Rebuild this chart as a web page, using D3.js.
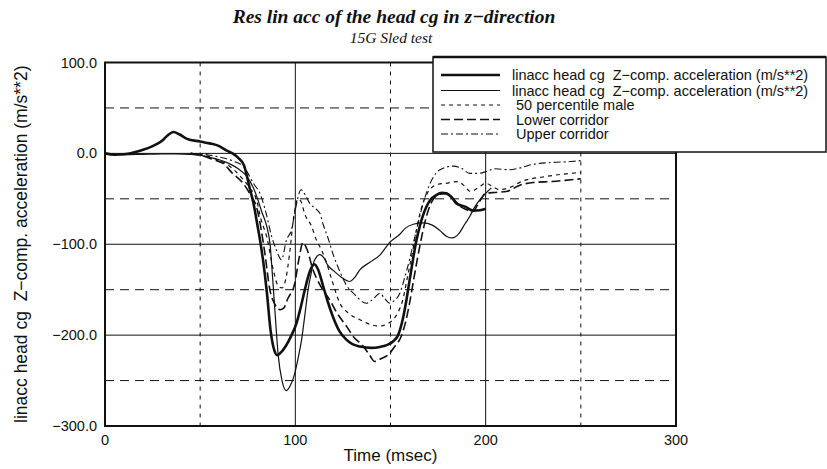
<!DOCTYPE html>
<html>
<head>
<meta charset="utf-8">
<script src="https://cdn.jsdelivr.net/npm/d3@7/dist/d3.min.js"></script>
<style>
  html, body { margin: 0; padding: 0; background: #fff; }
  svg { display: block; }
  text { white-space: pre; }
</style>
</head>
<body>
<svg id="chart" width="827" height="469"></svg>
<script>
// ---------------- DATA ----------------
const titleText = "Res lin acc of the head cg in z\u2212direction";
const subtitleText = "15G Sled test";
const xLabelText = "Time (msec)";
const yLabelText = "linacc head cg  Z\u2212comp. acceleration (m/s**2)";

const xTicks = [0, 100, 200, 300];
const xTickLabels = ["0", "100", "200", "300"];
const yTicks = [100, 0, -100, -200, -300];
const yTickLabels = ["100.0", "0.0", "\u2212100.0", "\u2212200.0", "\u2212300.0"];
const xGridSolid = [100, 200];
const xGridDashed = [50, 150, 250];
const yGridSolid = [0, -100, -200];
const yGridDashed = [50, -50, -150, -250];

const legendLabels = [
  "linacc head cg  Z\u2212comp. acceleration (m/s**2)",
  "linacc head cg  Z\u2212comp. acceleration (m/s**2)",
  " 50 percentile male",
  " Lower corridor",
  " Upper corridor"
];

// test 1 (thick solid)  [time ms, acceleration]
const test1 = [[0,0],[5,-1.5],[10,-1],[15,1],[20,4],[25,8],[30,14],[33,20],[36,23.5],[39,21],[43,16],[50,13],[55,11],[60,8],[64,3],[67,0],[70,-5],[73,-13],[76,-38],[78,-55],[80,-78],[81.5,-96],[83,-117],[85,-152],[87,-195],[89,-217],[90.5,-222],[92,-220],[95,-212],[98,-200],[100.6,-187],[103,-168],[105,-150],[107.6,-130],[110,-122],[112,-128],[114.6,-146],[117,-163],[119.8,-180],[123,-195],[126.8,-205],[130,-210],[134,-212.5],[140,-214],[144.4,-213],[148,-211],[151.3,-207],[154,-200],[156.5,-182],[158.4,-161],[160,-140],[161.8,-117],[163.5,-97],[165.4,-80],[168.8,-59],[171,-51],[174,-46],[177,-43.5],[179.3,-44],[182,-48],[184.6,-55],[189.6,-59],[193.3,-63],[197,-62.5],[200,-61]];

// test 2 (thin solid)
const test2 = [[0,0],[5,-1],[10,-1.5],[20,-1],[30,-0.5],[37,-0.5],[45,-1],[50,-2],[54,-4],[60,-7],[65,-11],[70,-17],[74,-24],[78,-38],[82,-62],[86.6,-98],[88,-135],[89.5,-180],[91,-222],[93,-250],[95.3,-261],[97.5,-255],[99.7,-242],[101.5,-225],[103.3,-205],[105,-178],[106.7,-150],[108.5,-130],[110,-118],[112.9,-111.5],[115,-115],[117,-123],[120,-129],[124,-136],[128.6,-141],[131,-137],[134,-128],[139,-120],[144.4,-112],[149.6,-98],[154.9,-89],[158,-82],[162,-78],[167,-76.5],[172,-79],[176,-85],[180,-92],[182.5,-93],[186,-88],[189,-78],[191.6,-69.5],[194,-60],[197,-51],[200,-44],[203,-38]];

// 50 percentile male (short dash)
const male50 = [[45,0],[52,-2],[58,-6],[64,-12],[71,-25],[76,-38],[79.6,-51],[82,-73],[85,-92],[88.4,-128],[91,-146],[93,-148],[95,-138],[97,-110],[99,-72],[101.5,-50],[103,-53],[105,-67],[108.5,-80],[111,-95],[113.7,-106],[116,-118],[119,-138],[123.4,-165],[128,-176],[133.9,-183],[139,-188],[144.4,-190],[148,-188],[151.3,-183],[154,-175],[156.6,-160],[159,-135],[161.8,-106],[164,-80],[166,-62],[170.6,-40],[175,-34],[179,-33],[185,-31],[189,-36],[192,-42],[196,-38],[200,-33],[204,-37],[207,-40],[212,-38],[220,-30],[230,-26],[240,-23],[250,-21]];

// Lower corridor (long dash)
const lowerCorr = [[45,0],[50,-2],[57,-7],[62,-11],[67,-22],[72.6,-33],[76,-44],[80,-62],[84,-110],[86.6,-150],[89,-165],[92,-172],[94,-170],[96,-160],[99.7,-143],[102,-115],[104,-98],[106,-105],[109.3,-128],[113,-145],[118,-161],[122,-176],[126.8,-190],[131,-203],[135.6,-212],[139,-222],[141.7,-229],[145,-226],[149.6,-220],[152,-213],[155.7,-201],[158,-185],[160,-165],[162.5,-135],[165.4,-102],[168.8,-70],[172.3,-51],[176,-45],[179.3,-44],[183,-50],[186.4,-58],[190,-62],[193.3,-64],[196,-56],[200,-44],[205,-43],[210.8,-42],[218,-35],[225,-32],[235,-31],[245,-29],[250,-28]];

// Upper corridor (dash-dot)
const upperCorr = [[45,0],[55,-2],[62,-5],[68,-9],[72.6,-14],[78,-33],[82,-47],[85,-69],[87.5,-91],[90,-106],[92.7,-117],[95.4,-95],[98,-84],[100,-62],[103,-40],[105,-45],[107.6,-55],[110,-60],[112.9,-66],[114.6,-78],[117,-92],[120,-112],[123,-128],[126.8,-145],[131,-155],[137.3,-165],[141,-160],[144.4,-154],[147,-160],[149.6,-165],[152,-162],[154.9,-154],[157,-140],[160,-117],[163,-90],[165.4,-69],[168.8,-44],[172,-28],[176,-18],[182.8,-14],[187,-16],[191.6,-22],[196,-22],[200.4,-20],[205,-17],[212.6,-18],[218,-16],[225,-12],[235,-10],[245,-9],[250,-8]];

// ---------------- CHART ----------------
const svg = d3.select("#chart");
const plot = { left: 105, right: 676, top: 62.5, bottom: 426 };
const ink = "#111";

const x = d3.scaleLinear().domain([0, 300]).range([plot.left, plot.right]);
const y = d3.scaleLinear().domain([-300, 100]).range([plot.bottom, plot.top]);

svg.append("defs").append("clipPath").attr("id", "clip")
  .append("rect").attr("x", plot.left).attr("y", plot.top)
  .attr("width", plot.right - plot.left).attr("height", plot.bottom - plot.top);

const grid = svg.append("g");
grid.selectAll(".vs").data(xGridSolid).join("line")
  .attr("x1", d => x(d)).attr("x2", d => x(d))
  .attr("y1", plot.top).attr("y2", plot.bottom)
  .attr("stroke", ink).attr("stroke-width", 1);
grid.selectAll(".vd").data(xGridDashed).join("line")
  .attr("x1", d => x(d)).attr("x2", d => x(d))
  .attr("y1", plot.top).attr("y2", plot.bottom)
  .attr("stroke", ink).attr("stroke-width", 1).attr("stroke-dasharray", "4,5");
grid.selectAll(".hs").data(yGridSolid).join("line")
  .attr("x1", plot.left).attr("x2", plot.right)
  .attr("y1", d => y(d)).attr("y2", d => y(d))
  .attr("stroke", ink).attr("stroke-width", 1);
grid.selectAll(".hd").data(yGridDashed).join("line")
  .attr("x1", plot.left).attr("x2", plot.right)
  .attr("y1", d => y(d)).attr("y2", d => y(d))
  .attr("stroke", ink).attr("stroke-width", 1).attr("stroke-dasharray", "9,6");

const styles = [
  { data: test1, width: 2.6, dash: null },
  { data: test2, width: 1.2, dash: null },
  { data: male50, width: 1.2, dash: "4,4" },
  { data: lowerCorr, width: 1.6, dash: "9,4" },
  { data: upperCorr, width: 1.1, dash: "7,3,2,3" }
];

const line = d3.line().x(d => x(d[0])).y(d => y(d[1])).curve(d3.curveMonotoneX);
const lines = svg.append("g").attr("clip-path", "url(#clip)");
styles.slice().reverse().forEach(s => {
  lines.append("path").attr("d", line(s.data))
    .attr("fill", "none").attr("stroke", ink)
    .attr("stroke-width", s.width)
    .attr("stroke-linejoin", "round")
    .attr("stroke-dasharray", s.dash);
});

svg.append("rect").attr("x", plot.left).attr("y", plot.top)
  .attr("width", plot.right - plot.left).attr("height", plot.bottom - plot.top)
  .attr("fill", "none").attr("stroke", ink).attr("stroke-width", 2);

const sans = "'Liberation Sans', Arial, Helvetica, sans-serif";
const serif = "'Liberation Serif', 'Times New Roman', serif";

svg.append("g").selectAll("text").data(xTicks).join("text")
  .attr("x", d => x(d)).attr("y", plot.bottom + 19)
  .attr("text-anchor", "middle").attr("font-family", sans).attr("font-size", 14.5)
  .attr("fill", ink).text((d, i) => xTickLabels[i]);

svg.append("g").selectAll("text").data(yTicks).join("text")
  .attr("x", plot.left - 8).attr("y", d => y(d) + 5)
  .attr("text-anchor", "end").attr("font-family", sans).attr("font-size", 14.5)
  .attr("fill", ink).text((d, i) => yTickLabels[i]);

svg.append("text").attr("x", (plot.left + plot.right) / 2).attr("y", 461)
  .attr("text-anchor", "middle").attr("font-family", sans).attr("font-size", 17)
  .attr("fill", ink).text(xLabelText);

svg.append("text")
  .attr("transform", `translate(27,${(plot.top + plot.bottom) / 2}) rotate(-90)`)
  .attr("text-anchor", "middle").attr("font-family", sans).attr("font-size", 17.5)
  .attr("fill", ink).text(yLabelText);

svg.append("text").attr("x", 394).attr("y", 23)
  .attr("text-anchor", "middle").attr("font-family", serif).attr("font-size", 19.5)
  .attr("font-weight", "bold").attr("font-style", "italic")
  .attr("fill", ink).text(titleText);
svg.append("text").attr("x", 391).attr("y", 43)
  .attr("text-anchor", "middle").attr("font-family", serif).attr("font-size", 15.5)
  .attr("font-style", "italic")
  .attr("fill", ink).text(subtitleText);

const lg = svg.append("g");
lg.append("rect").attr("x", 433).attr("y", 57).attr("width", 393).attr("height", 95)
  .attr("fill", "#fff").attr("stroke", ink).attr("stroke-width", 1.5);
lg.append("line").attr("x1", 433).attr("x2", 826).attr("y1", 57).attr("y2", 57)
  .attr("stroke", ink).attr("stroke-width", 2.5);
const rowY = [75, 90.5, 105, 119.5, 134];
styles.forEach((s, i) => {
  lg.append("line").attr("x1", 441).attr("x2", 500)
    .attr("y1", rowY[i]).attr("y2", rowY[i])
    .attr("stroke", ink).attr("stroke-width", s.width)
    .attr("stroke-dasharray", s.dash);
  lg.append("text").attr("x", 512).attr("y", rowY[i] + 5)
    .attr("font-family", sans).attr("font-size", 14.5).attr("fill", ink)
    .text(legendLabels[i]);
});
</script>
</body>
</html>
